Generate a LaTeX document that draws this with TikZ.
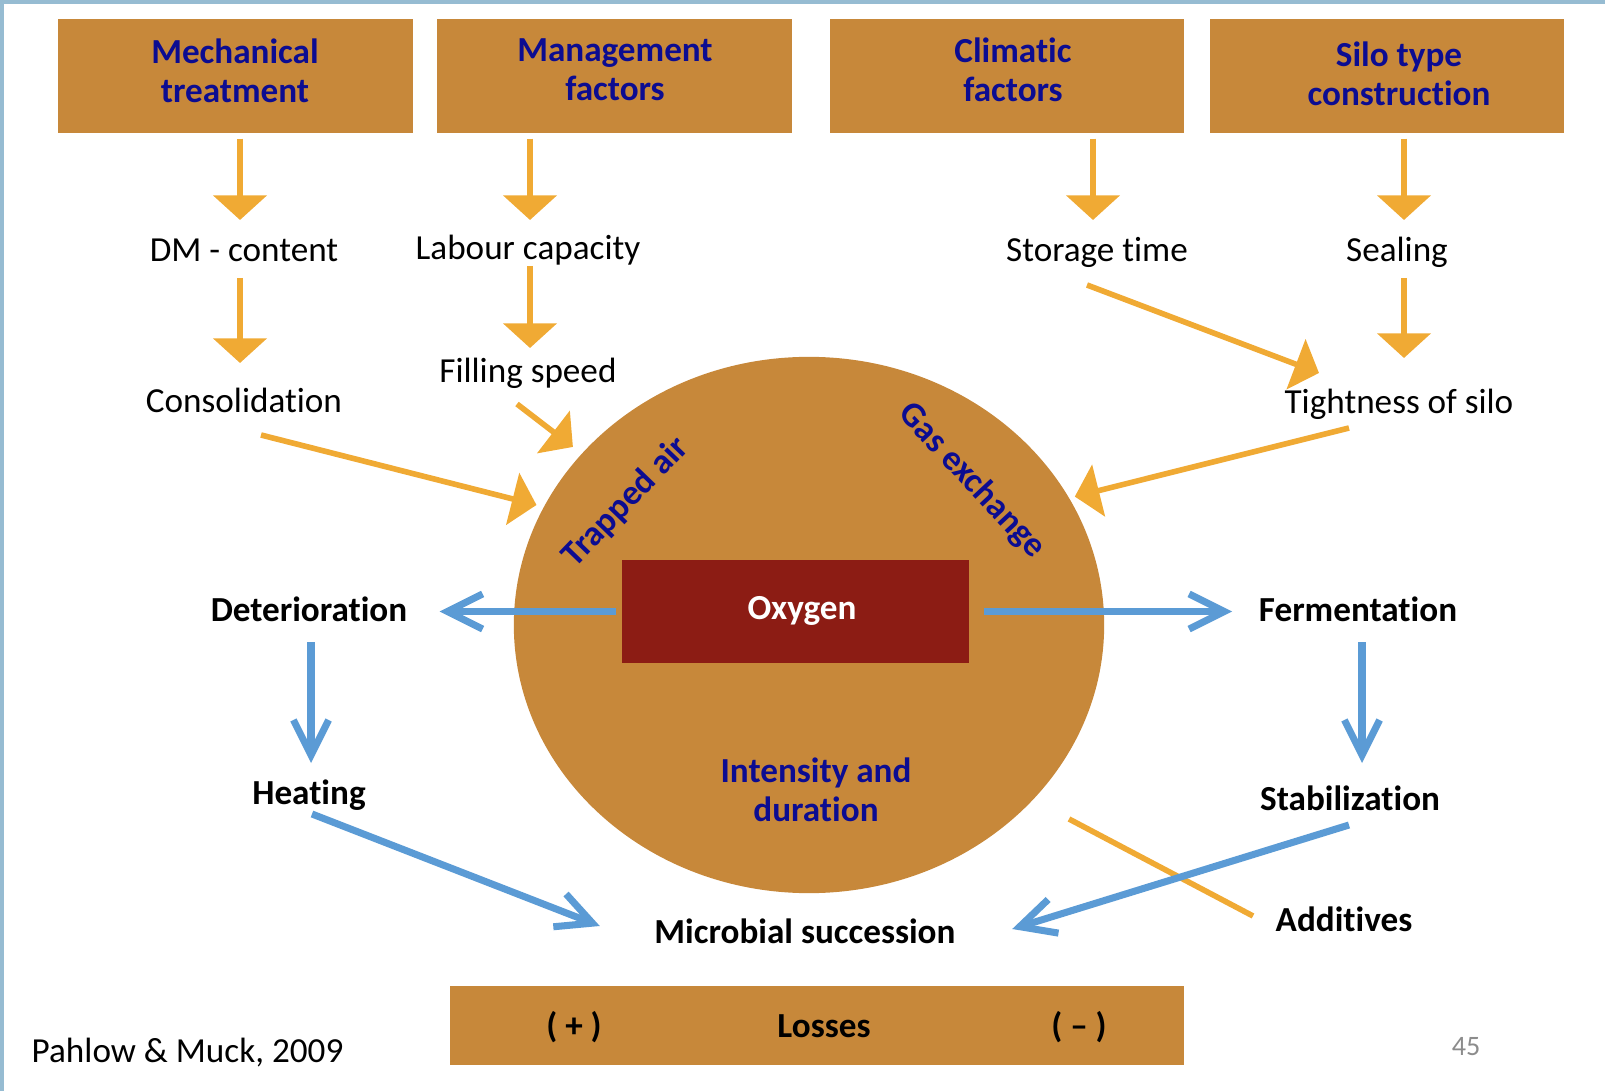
\documentclass[tikz,border=0pt]{standalone}
\usepackage{fontspec}
\setmainfont{Carlito}[Ligatures=NoCommon]
\usetikzlibrary{arrows.meta,calc,shapes.geometric}
\definecolor{silobrown}{RGB}{199,136,58}
\definecolor{oxyred}{RGB}{140,28,20}
\definecolor{navytext}{RGB}{12,12,145}
\definecolor{sketch}{RGB}{240,170,52}
\definecolor{flow}{RGB}{91,155,213}
\definecolor{frameblue}{RGB}{150,188,210}
\tikzset{
  factor/.style={fill=silobrown, minimum width=3.54cm, minimum height=1.14cm},
  factortext/.style={text=navytext, align=center, inner sep=0pt, font=\fontsize{10}{11}\selectfont\bfseries},
  lbl/.style={inner sep=0pt, text height=8.5pt, text depth=2pt, font=\fontsize{10}{12}\selectfont},
  blbl/.style={lbl, font=\fontsize{10}{12}\selectfont\bfseries},
  ovaltext/.style={text=navytext, align=center, font=\fontsize{10}{11}\selectfont\bfseries},
  sk/.style={draw=sketch, line width=1.6pt, -{Triangle[width=15pt,length=7pt]}},
  fl/.style={draw=flow, line width=2pt, -{Straight Barb[length=10pt,width=10pt]}},
}

\begin{document}
\begin{tikzpicture}[x=0.01cm,y=-0.01cm]
	\useasboundingbox (0,0) rectangle (1605,1091);
	\draw[frameblue, line width=1pt] (2,1091) -- (2,2) -- (1605,2);
	
	%%%%% FACTORS %%%%%
	\node[factor] (mech) at (235.5,76) {};
	\node[factor] (mgmt) at (614.5,76) {};
	\node[factor] (clim) at (1007,76) {};
	\node[factor] (silo) at (1387,76) {};
	\node[factortext] (mecht) at (235,71) {Mechanical\\treatment};
	\node[factortext] (mgmtt) at (615,70) {Management\\factors};
	\node[factortext] (climt) at (1013,70) {Climatic\\factors};
	\node[factortext] (silot) at (1399,74) {Silo type\\construction};
	
	\node[lbl] (dm) at (244,250) {DM - content};
	\node[lbl] (labour) at (528,248) {Labour capacity};
	\node[lbl] (store) at (1097,250) {Storage time};
	\node[lbl] (seal) at (1397,250) {Sealing};
	\node[lbl] (cons) at (244,401) {Consolidation};
	\node[lbl] (filling) at (528,371) {Filling speed};
	\node[lbl] (tight) at (1399,402) {Tightness of silo};
	
	%%%%% OXYGEN %%%%%
	\node[ellipse, fill=silobrown, minimum width=5.9cm, minimum height=5.36cm, inner sep=0pt] (oval) at (809,625) {};
	\node[fill=oxyred, minimum width=3.47cm, minimum height=1.03cm] (oxy) at (795.5,611.5) {};
	\node[blbl, text=white] (oxylbl) at (802,608) {Oxygen};
	\node[ovaltext, rotate=46] (trap) at (626,502) {Trapped air};
	\node[ovaltext, rotate=-47] (gas) at (972,481) {Gas exchange};
	\node[ovaltext] (intens) at (816,790) {Intensity and\\duration};
	
	\node[blbl] (det) at (309,610) {Deterioration};
	\node[blbl] (fer) at (1358,610) {Fermentation};
	\node[blbl] (heat) at (309,793) {Heating};
	\node[blbl] (stab) at (1350,799) {Stabilization};
	\node[blbl] (micro) at (805,932) {Microbial succession};
	\node[blbl] (add) at (1344,920) {Additives};
	
	%%%%% LOSSES %%%%%
	\node[fill=silobrown, minimum width=7.34cm, minimum height=0.79cm] (loss) at (817,1025.5) {};
	\node[blbl] (plus) at (574,1026) {( + )};
	\node[blbl] (lossword) at (824,1026) {Losses};
	\node[blbl] (minus) at (1079,1026) {( – )};
	
	\node[lbl, anchor=west] (src) at (31,1051) {Pahlow \& Muck, 2009};
	\node[lbl, text=black!45, font=\fontsize{8}{9}\selectfont] (page) at (1466,1044) {45};
	
	%%%%% ORANGE ARROWS %%%%%
	\draw[sk] ($(mech.south -| dm)+(-4,5)$) -- ($(dm)+(-4,-30)$);
	\draw[sk] ($(mgmt.south -| labour)+(2,5)$) -- ($(labour)+(2,-28)$);
	\draw[sk] ($(clim.south -| store)+(-4,5)$) -- ($(store)+(-4,-30)$);
	\draw[sk] ($(silo.south -| seal)+(7,5)$) -- ($(seal)+(7,-30)$);
	\draw[sk] ($(dm)+(-4,28)$) -- ($(cons)+(-4,-38)$);
	\draw[sk] ($(labour)+(2,18)$) -- ($(filling)+(2,-23)$);
	\draw[sk] ($(seal)+(7,28)$) -- ($(tight)+(5,-44)$);
	\draw[sk] ($(store)+(-10,35)$) -- ($(tight)+(-80,-29)$);
	\draw[sk, shorten >=3pt] ($(filling)+(-11,33)$) -- (oval.143);
	\draw[sk, shorten >=2pt] ($(cons)+(17,34)$) -- (oval.156);
	\draw[sk, shorten >=1.5pt] ($(tight)+(-50,26)$) -- (oval.26);
	\draw[sk, -] ($(add.west)+(-22,-4)$) -- ($(add.west)+(-206,-101)$);
	
	%%%%% BLUE ARROWS %%%%%
	\draw[fl, shorten <=1.4pt, shorten >=9pt] (oxy.west) -- (oxy.west -| det.east);
	\draw[fl, shorten <=4pt, shorten >=7.4pt] (oxy.east) -- (oxy.east -| fer.west);
	\draw[fl] ($(det)+(2,32)$) -- ($(heat)+(2,-30)$);
	\draw[fl] ($(fer)+(4,32)$) -- ($(stab)+(12,-36)$);
	\draw[fl] ($(heat)+(3,21)$) -- ($(micro.west)+(-54,-6)$);
	\draw[fl] ($(stab)+(-1,26)$) -- ($(micro.east)+(56,-3)$);
\end{tikzpicture}
\end{document}
